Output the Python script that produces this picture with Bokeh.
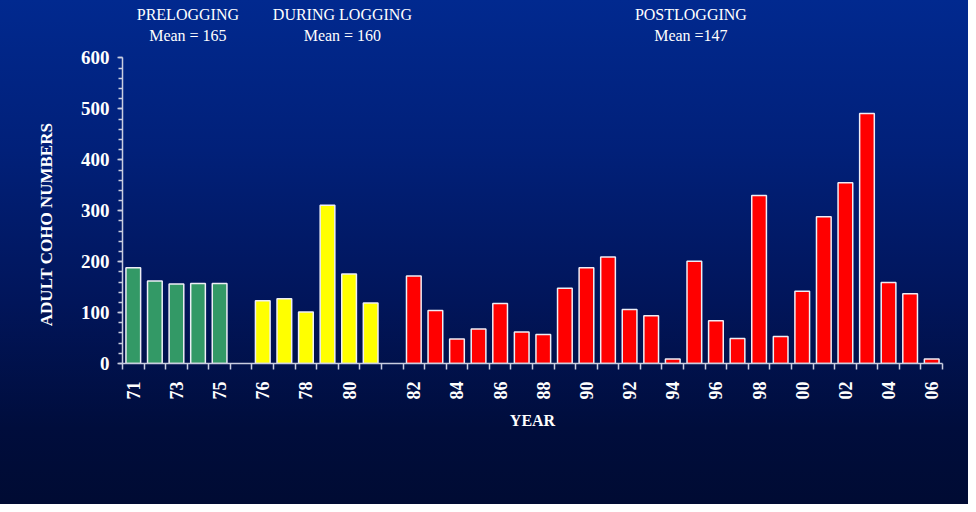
import math
from bokeh.plotting import figure
from bokeh.models import Range1d, FixedTicker, Label, ColumnDataSource
from bokeh.embed import file_html
from bokeh.resources import INLINE

# ---- data ----
pre_years = ["71", "72", "73", "74", "75"]
pre_counts = [188, 162, 156, 157, 157]
during_years = ["76", "77", "78", "79", "80", "81"]
during_counts = [123, 127, 101, 311, 176, 119]
post_years = ["82", "83", "84", "85", "86", "87", "88", "89", "90", "91", "92", "93",
              "94", "95", "96", "97", "98", "99", "00", "01", "02", "03", "04", "05", "06"]
post_counts = [172, 104, 48, 68, 118, 62, 57, 148, 188, 209, 106, 94,
               9, 201, 84, 49, 330, 53, 142, 288, 355, 491, 159, 137, 9]
labelled_years = ["71", "73", "75", "76", "78", "80", "82", "84", "86", "88", "90",
                  "92", "94", "96", "98", "00", "02", "04", "06"]
group_names = ["PRELOGGING", "DURING LOGGING", "POSTLOGGING"]
group_means = ["Mean = 165", "Mean = 160", "Mean =147"]
group_colors = ["#339966", "#FFFF00", "#FF0000"]
y_ticks = [0, 100, 200, 300, 400, 500, 600]

# ---- layout of slots (one empty slot between groups) ----
groups = [(pre_years, pre_counts), (during_years, during_counts), (post_years, post_counts)]
slot_of = {}
s = 0
for yrs, _ in groups:
    for i, y in enumerate(yrs):
        slot_of[y] = s + i + 0.5
    s += len(yrs) + 1
n_slots = s - 1

FONT = "Liberation Serif"
AXIS_COL = "#c9cde0"

p = figure(width=968, height=504, output_backend="svg", toolbar_location=None,
           x_range=Range1d(0, n_slots), y_range=Range1d(0, 712.9),
           min_border_left=122, min_border_right=26, min_border_top=0,
           min_border_bottom=141,
           background_fill_alpha=0, border_fill_alpha=0, outline_line_color=None,
           styles={"background": "linear-gradient(to bottom, #01298f 0%, #012079 30%, #01155a 60%, #000d3c 85%, #000b33 100%)"})
p.grid.visible = False

for (yrs, cnts), col in zip(groups, group_colors):
    src = ColumnDataSource(dict(x=[slot_of[y] for y in yrs], top=cnts))
    p.vbar(x="x", top="top", bottom=0, width=0.68, source=src,
           fill_color=col, line_color="#eeeef6", line_width=1.5)

# y axis
ya = p.yaxis[0]
ya.bounds = (0, 600)
ya.ticker = FixedTicker(ticks=y_ticks, minor_ticks=list(range(0, 601, 20)))
ya.axis_line_color = AXIS_COL
ya.axis_line_width = 1.5
ya.major_tick_line_color = AXIS_COL
ya.major_tick_line_width = 1.5
ya.major_tick_out = 5
ya.major_tick_in = 0
ya.minor_tick_line_color = AXIS_COL
ya.minor_tick_line_width = 1.5
ya.minor_tick_out = 4
ya.minor_tick_in = 0
ya.major_label_text_font = FONT
ya.major_label_text_font_style = "bold"
ya.major_label_text_font_size = "19px"
ya.major_label_text_color = "white"
ya.major_label_standoff = 8
ya.axis_label = "ADULT COHO NUMBERS" + "\u00a0" * 20
ya.axis_label_text_font = FONT
ya.axis_label_text_font_style = "bold"
ya.axis_label_text_font_size = "17px"
ya.axis_label_text_color = "white"
ya.axis_label_standoff = 22

# x axis
xa = p.xaxis[0]
centers = [slot_of[y] for y in labelled_years]
xa.ticker = FixedTicker(ticks=centers, minor_ticks=list(range(0, n_slots + 1)))
xa.major_label_overrides = {c: y for c, y in zip(centers, labelled_years)}
xa.axis_line_color = AXIS_COL
xa.axis_line_width = 1.5
xa.major_tick_out = 0
xa.major_tick_in = 0
xa.minor_tick_line_color = AXIS_COL
xa.minor_tick_line_width = 1.5
xa.minor_tick_out = 6
xa.minor_tick_in = 0
xa.major_label_orientation = math.pi / 2
xa.major_label_text_font = FONT
xa.major_label_text_font_style = "bold"
xa.major_label_text_font_size = "18px"
xa.major_label_text_color = "white"
xa.major_label_standoff = 12
xa.axis_label = "YEAR"
xa.axis_label_text_font = FONT
xa.axis_label_text_font_style = "bold"
xa.axis_label_text_font_size = "16px"
xa.axis_label_text_color = "white"
xa.axis_label_standoff = 9

# group headers
header_x = [3.03, 10.19, 26.34]
for hx, name, mean in zip(header_x, group_names, group_means):
    p.add_layout(Label(x=hx, y=685.5, text=name, text_align="center",
                       text_baseline="alphabetic", text_color="white",
                       text_font=FONT, text_font_size="16px"))
    p.add_layout(Label(x=hx, y=644.8, text=mean, text_align="center",
                       text_baseline="alphabetic", text_color="white",
                       text_font=FONT, text_font_size="16px"))

open("out.html", "w").write(file_html(p, INLINE))
